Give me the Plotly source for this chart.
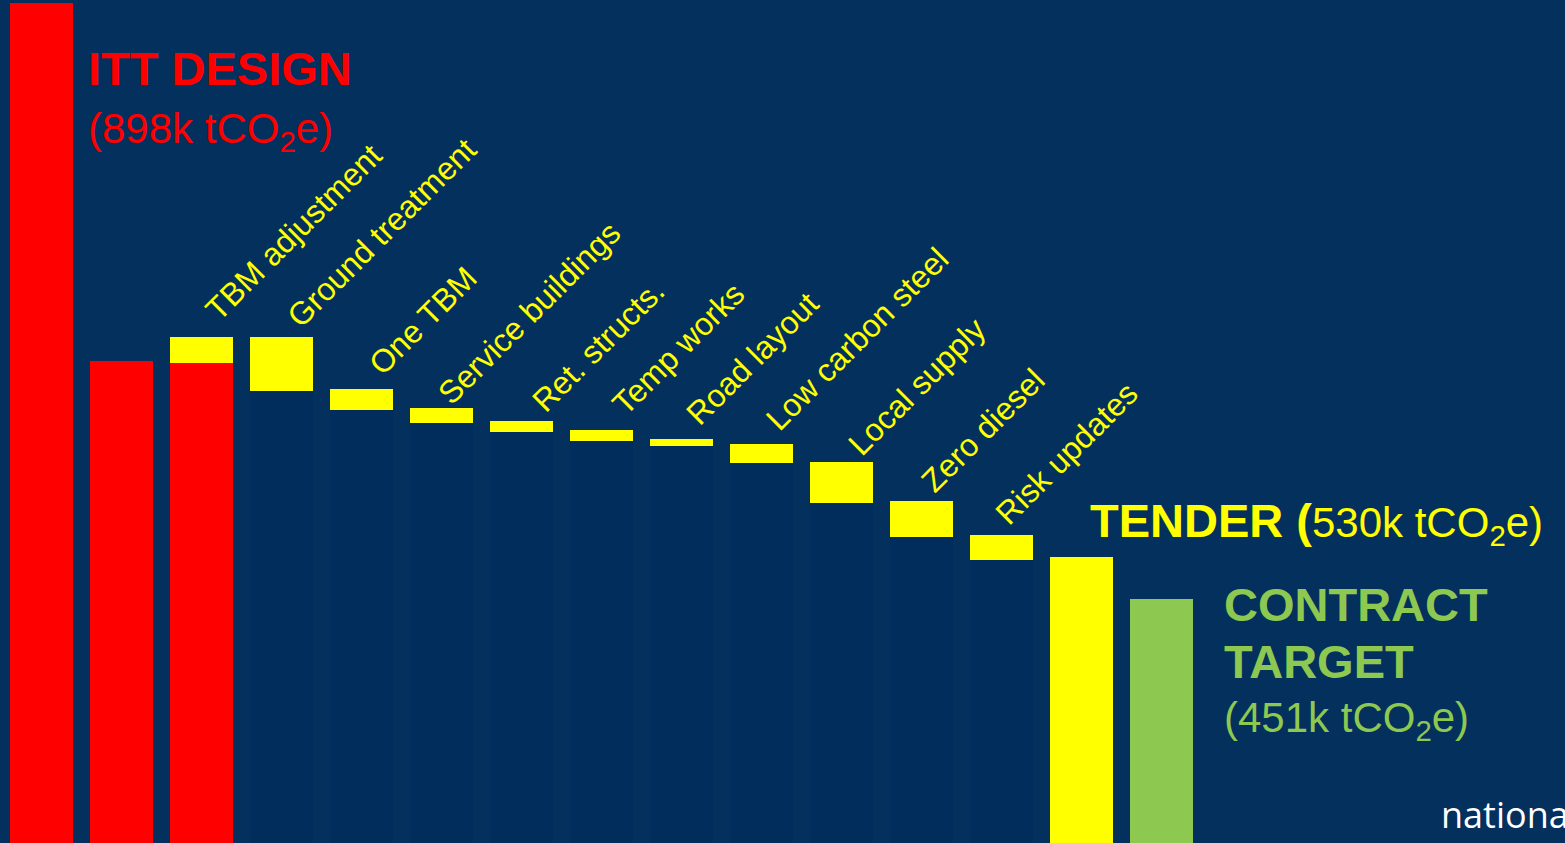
import plotly.graph_objects as go

# ---------------- data (bar heights in drawing units) ----
categories = ["ITT design", "ITT base", "TBM adjustment", "Ground treatment",
              "One TBM", "Service buildings", "Ret. structs.", "Temp works",
              "Road layout", "Low carbon steel", "Local supply", "Zero diesel",
              "Risk updates", "Tender", "Contract target"]

red_values = [840, 482, 480]                       # ITT design, ITT base, TBM base
step_labels = ["TBM adjustment", "Ground treatment", "One TBM", "Service buildings",
               "Ret. structs.", "Temp works", "Road layout", "Low carbon steel",
               "Local supply", "Zero diesel", "Risk updates"]
step_top = [506, 506, 454, 435, 422, 413, 404, 399, 381, 342, 308]
step_bottom = [480, 452, 433, 420, 411, 402, 397, 380, 340, 306, 283]
tender_value = 286
target_value = 244

itt_text = "898k"
tender_text = "530k"
target_text = "451k"

# ---------------- styling ----------------
W, H = 1565, 843
BG = "#04305E"
COL_DARK = "#002D5C"
RED = "#FF0000"
YELLOW = "#FFFF00"
GREEN = "#8DC850"
FONT = "Liberation Sans, Arial, sans-serif"
BAR_W = 0.7875
BAR_PX = 80          # pixels per category step
LABEL_SIZE = 32
KX, KY = 21.0, 11.8  # offset of text start from rotated bbox corner

# where each rotated label starts, relative to its bar (px right of bar's left edge, px above bar top)
label_ox = [47, 48, 50, 39, 53, 53, 47, 47, 50, 43, 37]
label_oy = [19, 12, 16, 6, 11, 17, 16, 16, 9, 11, 13]

x_red = [0, 1, 2]
x_steps = list(range(2, 2 + len(step_top)))
x_tender = len(categories) - 2
x_target = len(categories) - 1

fig = go.Figure()

# darker columns underneath the floating steps
fig.add_trace(go.Bar(x=x_steps[1:], y=step_bottom[1:], width=BAR_W,
                     marker=dict(color=COL_DARK, line=dict(width=0)),
                     hoverinfo="skip", showlegend=False))
# red bars
fig.add_trace(go.Bar(x=x_red, y=red_values, width=BAR_W,
                     marker=dict(color=RED, line=dict(width=0)),
                     hovertext=categories[:3], showlegend=False))
# floating yellow steps
fig.add_trace(go.Bar(x=x_steps, y=[t - b for t, b in zip(step_top, step_bottom)],
                     base=step_bottom, width=BAR_W,
                     marker=dict(color=YELLOW, line=dict(width=0)),
                     hovertext=step_labels, showlegend=False))
# tender
fig.add_trace(go.Bar(x=[x_tender], y=[tender_value], width=BAR_W,
                     marker=dict(color=YELLOW, line=dict(width=0)),
                     hovertext=["Tender"], showlegend=False))
# contract target
fig.add_trace(go.Bar(x=[x_target], y=[target_value], width=BAR_W,
                     marker=dict(color=GREEN, line=dict(width=0)),
                     hovertext=["Contract target"], showlegend=False))

annotations = []

# rotated step labels
half_bar_px = BAR_W * BAR_PX / 2
for i, lab in enumerate(step_labels):
    annotations.append(dict(
        x=x_steps[i], y=step_top[i], xref="x", yref="y",
        text=lab, textangle=-45, showarrow=False,
        xanchor="left", yanchor="bottom",
        xshift=label_ox[i] - half_bar_px - KX, yshift=label_oy[i] - KY,
        font=dict(family=FONT, size=LABEL_SIZE, color=YELLOW)))


def paper_note(text, left_px, baseline_px, size, color, bold=False, desc=0.24):
    bottom_px = baseline_px + desc * size
    return dict(x=left_px / W, y=1 - bottom_px / H, xref="paper", yref="paper",
                xanchor="left", yanchor="bottom", showarrow=False, align="left",
                text=text,
                font=dict(family=FONT, size=size, color=color,
                          weight="bold" if bold else "normal"))


annotations.append(paper_note("ITT DESIGN", 86, 86, 47, RED, bold=True))
annotations.append(paper_note(f"({itt_text} tCO<sub>2</sub>e)", 86, 150, 42, RED))
annotations.append(paper_note(
    f"<b>TENDER (</b><span style='font-size:42px'>{tender_text} tCO<sub>2</sub>e)</span>",
    1088, 543, 47, YELLOW))
annotations.append(paper_note("CONTRACT", 1222, 622, 47, GREEN, bold=True))
annotations.append(paper_note("TARGET", 1222, 679, 47, GREEN, bold=True))
annotations.append(paper_note(f"({target_text} tCO<sub>2</sub>e)", 1222, 739, 42, GREEN))
# logo text (cut off at the edges in the original)
annotations.append(dict(x=1439 / W, y=1 - 841 / H, xref="paper", yref="paper",
                        xanchor="left", yanchor="bottom", showarrow=False,
                        text="national", font=dict(family="Open Sans, sans-serif",
                                                   size=36, color="white")))
annotations.append(dict(x=1439 / W, y=1 - 830 / H, xref="paper", yref="paper",
                        xanchor="left", yanchor="top", showarrow=False,
                        text="<b>highways</b>", font=dict(family="Open Sans, sans-serif",
                                                          size=36, color="white")))

fig.update_layout(
    width=W, height=H,
    margin=dict(l=0, r=0, t=0, b=0),
    paper_bgcolor=BG, plot_bgcolor=BG,
    barmode="overlay",
    showlegend=False,
    xaxis=dict(range=[-0.51875, 19.04375], visible=False, fixedrange=True),
    yaxis=dict(range=[0, H], visible=False, fixedrange=True),
    annotations=annotations,
)

fig.write_html(
    "out.html",
    config={"displayModeBar": False},
    post_script="document.body.style.margin='0';document.body.style.overflow='hidden';",
)
